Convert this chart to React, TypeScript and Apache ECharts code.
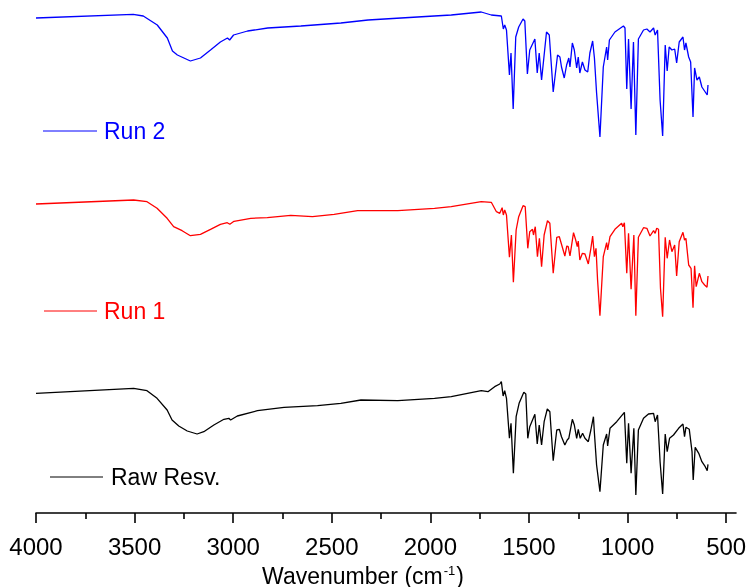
import { useEffect, useRef } from "react";
import * as echarts from "echarts";

// Tick values (cm-1)
const majorTicks = [4000, 3500, 3000, 2500, 2000, 1500, 1000, 500];
const minorTicks = [3750, 3250, 2750, 2250, 1750, 1250, 750];

const seriesNames = ["Run 2", "Run 1", "Raw Resv."];

// Run 2 (offset spectrum, arbitrary units)
const run2Wn = [4000, 3507, 3456, 3385, 3334, 3308, 3283, 3217, 3166, 3115, 3065, 3029, 3018, 2998, 2927, 2825, 2657, 2454, 2316, 2149, 1981, 1894, 1742,
  1691, 1640, 1630, 1623, 1614, 1599, 1591, 1580, 1567, 1552, 1530, 1521, 1508, 1496, 1470, 1458, 1448, 1436, 1411, 1397,
  1377, 1355, 1343, 1335, 1321, 1309, 1298, 1292, 1280, 1270, 1258, 1250, 1242, 1229, 1216, 1202, 1191, 1177, 1168, 1157,
  1140, 1123, 1106, 1101, 1092, 1064, 1021, 1013, 1004, 995, 982, 970, 958, 945, 919, 902, 886, 868, 860, 848,
  835, 822, 809, 799, 789, 775, 761, 751, 738, 719, 711, 704, 690, 680, 668, 660, 648, 636, 623, 606, 596, 592];
const run2T = [498, 501.7, 500, 491, 478, 465, 461, 455, 458, 466, 474, 478, 476, 481, 485, 488, 490, 493, 496, 498, 500, 501, 504,
  501, 500, 487, 491, 486, 441, 463, 407, 479, 489, 497, 495, 442, 466, 477, 443, 463, 436, 484, 481,
  424, 461, 459, 449, 438, 451, 458, 449, 473, 466, 448, 459, 443, 454, 446, 444, 463, 475, 458, 423,
  379, 449, 469, 456, 476, 484, 490, 488, 427, 477, 407, 474, 381, 477, 486, 487, 484, 488, 481, 486,
  416, 380, 471, 445, 469, 466, 467, 453, 474, 479, 466, 473, 459, 454, 399, 448, 436, 439, 429, 424, 421, 431];

// Run 1
const run1Wn = [4000, 3505, 3437, 3386, 3335, 3302, 3259, 3217, 3166, 3115, 3065, 3030, 3017, 2996, 2911, 2827, 2708, 2598, 2488, 2369, 2165, 1979, 1894, 1742,
  1691, 1665, 1648, 1636, 1630, 1623, 1614, 1599, 1589, 1579, 1565, 1552, 1530, 1519, 1506, 1496, 1482, 1477, 1468, 1457,
  1447, 1436, 1423, 1406, 1394, 1377, 1359, 1346, 1335, 1318, 1308, 1301, 1292, 1274, 1263, 1255, 1250, 1242, 1229, 1216,
  1199, 1186, 1177, 1168, 1160, 1152, 1140, 1123, 1106, 1101, 1089, 1064, 1030, 1024, 1016, 1004, 995, 982, 968, 958,
  945, 919, 902, 886, 868, 860, 852, 843, 833, 822, 809, 799, 787, 775, 761, 751, 738, 719, 711, 704,
  690, 678, 668, 660, 652, 636, 623, 609, 597, 592];
const run1T = [312, 316, 314.3, 307.7, 297.7, 289.3, 285.3, 280.3, 281.7, 286.7, 291.7, 293.3, 291.7, 294.7, 297.7, 298.3, 300.7, 299.3, 301.7, 305.3, 305.3, 307.7, 309.3, 314.3,
  313.7, 304.3, 302.7, 308.3, 301, 306, 301, 258.7, 281, 233.7, 286, 299.3, 310.3, 309.3, 267.7, 284.3, 286.7, 281, 289.3, 259.3,
  277.7, 249.3, 281, 295.3, 292.7, 242.7, 278.7, 279.3, 271.7, 260, 270, 269.3, 260, 283.3, 276, 269.3, 275, 256, 262.7, 262,
  252, 267.7, 280, 259.3, 267.7, 236, 200.3, 259.3, 273.3, 266, 279.3, 286.7, 292.7, 289.3, 293.3, 242.7, 282.7, 226.7, 281, 200.3,
  278.7, 288.3, 287.7, 280, 285.3, 282.7, 287.7, 286.7, 227.7, 199.3, 278.7, 257.7, 276, 264.3, 271, 240, 274.3, 283.7, 276, 277.7,
  251, 247.7, 208.3, 250.3, 229.3, 242.7, 234.3, 231, 228.7, 240];

// Raw Resv.
const rawWn = [4000, 3505, 3437, 3386, 3335, 3310, 3276, 3233, 3183, 3149, 3098, 3047, 3022, 3013, 2979, 2877, 2742, 2572, 2454, 2352, 2165, 1979, 1894, 1742,
  1708, 1674, 1648, 1640, 1631, 1623, 1614, 1599, 1591, 1579, 1565, 1550, 1526, 1516, 1506, 1496, 1470, 1458, 1448, 1436,
  1423, 1407, 1394, 1377, 1359, 1346, 1335, 1318, 1306, 1298, 1280, 1270, 1258, 1250, 1240, 1228, 1216, 1199, 1186, 1173,
  1168, 1157, 1140, 1123, 1106, 1101, 1089, 1055, 1016, 1004, 995, 982, 968, 958, 945, 919, 894, 868, 860, 848,
  835, 822, 809, 799, 787, 767, 741, 719, 711, 704, 687, 673, 667, 657, 639, 623, 606, 596, 592];
const rawT = [122.7, 127.7, 125.3, 117.7, 106, 96, 90, 85, 82, 84.3, 91, 96.7, 97.7, 96, 100, 105.3, 108.7, 110.3, 112.7, 116, 115.3, 117.7, 119.3, 125.3,
  124.3, 129.3, 132, 134.3, 120, 125.3, 117.7, 77.7, 92.7, 42.7, 99.3, 112.7, 123.7, 122, 77.7, 89.3, 101.7, 72, 91, 71,
  94.3, 107, 104.3, 55.3, 86, 86.7, 79.3, 71, 76, 77.7, 96.7, 91, 77.7, 86.7, 77.7, 82.7, 77.7, 74.3, 86, 99.3,
  82.7, 51, 24.3, 71, 82, 70, 87.7, 94.3, 103.7, 52.7, 92.7, 42.7, 87.7, 21, 86, 97.7, 102, 102.7, 94.3, 101,
  54.3, 22, 82, 64.3, 77.7, 81, 87.7, 92, 79.3, 88.7, 86.7, 64.3, 36, 68.7, 62.7, 54.3, 49.3, 45.3, 51.7];

const colors = ["#0000ff", "#ff0000", "#000000"];
const FONT = 'Arial, "Liberation Sans", sans-serif';

export default function App() {
  const ref = useRef<HTMLDivElement>(null);
  useEffect(() => {
    const chart = echarts.init(ref.current!, null, { renderer: "svg" });
    const zip = (a: number[], b: number[]) => a.map((x, i) => [x, b[i]]);
    const datasets = [zip(run2Wn, run2T), zip(run1Wn, run1T), zip(rawWn, rawT)];
    const legendPos = [
      { x1: 43, x2: 97, y: 131, tx: 104 },
      { x1: 44, x2: 97, y: 311, tx: 104 },
      { x1: 50, x2: 103, y: 477, tx: 111 },
    ];
    const graphic: any[] = [];
    seriesNames.forEach((n, i) => {
      const p = legendPos[i];
      graphic.push({
        type: "line",
        shape: { x1: p.x1, y1: p.y, x2: p.x2, y2: p.y },
        style: { stroke: colors[i], lineWidth: 1 },
      });
      graphic.push({
        type: "text",
        x: p.tx,
        y: p.y,
        style: { text: n, fill: colors[i], font: `23px ${FONT}`, verticalAlign: "middle" },
      });
    });
    const fmt = (v: number) => String(v);
    chart.setOption({
      animation: false,
      grid: { left: 36, right: 11, top: 0, bottom: 74, containLabel: false, outerBoundsMode: "none" },
      xAxis: [
        {
          type: "value",
          min: 450,
          max: 4000,
          inverse: true,
          position: "bottom",
          splitLine: { show: false },
          axisLine: { show: true, lineStyle: { color: "#000", width: 1.6 } },
          axisTick: { show: true, customValues: majorTicks, length: 10, lineStyle: { color: "#000", width: 1.6 } },
          axisLabel: { customValues: majorTicks, formatter: fmt, color: "#000", fontSize: 24, fontFamily: FONT, margin: 21, hideOverlap: false },
          name: "{n|Wavenumber (cm}{s|-1}{n|)}",
          nameLocation: "middle",
          nameGap: 51,
          nameTextStyle: {
            padding: [0, 46, 0, 0],
            rich: {
              n: { fontSize: 23, fontFamily: FONT, color: "#000" },
              s: { fontSize: 13, fontFamily: FONT, color: "#000", verticalAlign: "top", padding: [0, 1, 10, 1] },
            },
          },
        },
        {
          type: "value",
          min: 450,
          max: 4000,
          inverse: true,
          position: "bottom",
          gridIndex: 0,
          splitLine: { show: false },
          axisLine: { show: false },
          axisLabel: { show: false },
          axisTick: { show: true, customValues: minorTicks, length: 6, lineStyle: { color: "#000", width: 1.6 } },
        },
      ],
      yAxis: { type: "value", min: 3, max: 516, show: false, splitLine: { show: false } },
      graphic,
      series: datasets.map((d, i) => ({
        name: seriesNames[i],
        type: "line",
        xAxisIndex: 0,
        data: d,
        showSymbol: false,
        symbol: "none",
        silent: true,
        lineStyle: { color: colors[i], width: 1.3 },
        itemStyle: { color: colors[i] },
      })),
    });
    return () => chart.dispose();
  }, []);
  return <div ref={ref} style={{ position: "fixed", left: 0, top: 0, width: 747, height: 587 }} />;
}
